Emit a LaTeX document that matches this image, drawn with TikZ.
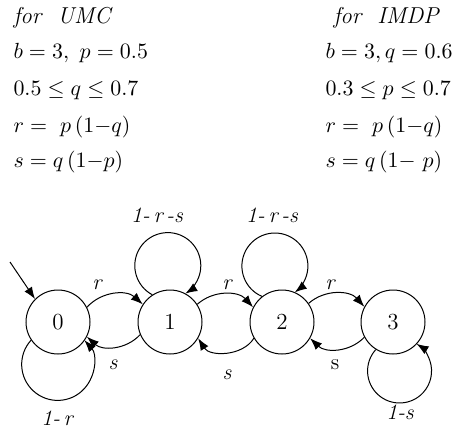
\documentclass[tikz,border=0pt]{standalone}
\usepackage{amsmath,amssymb}
\usepackage{tikz}
\usetikzlibrary{arrows.meta}

\begin{document}
\begin{tikzpicture}[x=0.5pt,y=0.5pt,>={Latex[length=6pt,width=4.5pt]},line width=0.5pt,
  stnode/.style={circle,draw,minimum size=32pt,inner sep=0pt,font=\fontsize{11.5}{13}\selectfont},
  hdr/.style={anchor=base west,inner sep=0pt,font=\fontsize{10.5}{13}\selectfont},
  lbl/.style={inner sep=0pt,font=\fontsize{11}{13}\selectfont\itshape}]

\useasboundingbox (0,0) rectangle (454,430);

% for UMC
\node[hdr,font=\fontsize{11.5}{13}\selectfont] (umc) at (13,407) {\textit{for\ \ UMC}};
\node[hdr] (umcb) at (13,372) {$b = 3,\ p = 0.5$};
\node[hdr] (umcq) at (13,335) {$0.5 \leq q \leq 0.7$};
\node[hdr] (umcr) at (13,298) {$r =\ p\,(1{-}q)$};
\node[hdr] (umcs) at (13,263) {$s = q\,(1{-}p)$};

% for IMDP
\node[hdr,font=\fontsize{11.5}{13}\selectfont] (imdp) at (333,407) {\textit{for\ \ IMDP}};
\node[hdr] (imdpb) at (325,372) {$b = 3, q = 0.6$};
\node[hdr] (imdpp) at (325,335) {$0.3 \leq p \leq 0.7$};
\node[hdr] (imdpr) at (325,298) {$r =\ p\,(1{-}q)$};
\node[hdr] (imdps) at (325,263) {$s = q\,(1{-}\ p)$};

% states
\node[stnode] (n0) at (58,108) {0};
\node[stnode] (n1) at (170,108) {1};
\node[stnode] (n2) at (282,108) {2};
\node[stnode] (n3) at (393,108) {3};

% initial arrow
\coordinate (init) at (10,168);
\draw[->] (init) -- (n0.135);

% r transitions
\draw[->] (n0.27) to[bend left=45] (n1.147);
\draw[->] (n1.33) to[bend left=45] (n2.153);
\draw[->] (n2.35) to[bend left=45] (n3.152);
\node[lbl] (r01) at (97,145) {r};
\node[lbl] (r12) at (227,145) {r};
\node[lbl] (r23) at (330,145) {r};

% s transitions
\draw[->] (n1.203) to[bend left=45] (n0.333);
\draw[->] (n2.210) to[bend left=58] (n1.330);
\draw[->] (n3.208) to[bend left=45] (n2.330);
\node[lbl] (s10) at (113,65) {s};
\node[lbl] (s21) at (227,55) {s};
\node[lbl,font=\fontsize{11}{13}\selectfont] (s32) at (335,65) {s};

% self loops
\draw[->] (n0.-146) arc[start angle=137.7,end angle=402.3,radius=36];
\draw[->] (n1.123) arc[start angle=242,end angle=-58,radius=33];
\draw[->] (n2.128) arc[start angle=247,end angle=-53,radius=33];
\draw[->] (n3.-122) arc[start angle=138,end angle=418,radius=32];
\node[lbl] (l0) at (57,12) {1-\,r};
\node[lbl] (l1) at (157,215) {1-\,r\,-s};
\node[lbl] (l2) at (272,215) {1-\,r\,-s};
\node[lbl] (l3) at (400,18) {1-s};

\end{tikzpicture}
\end{document}
